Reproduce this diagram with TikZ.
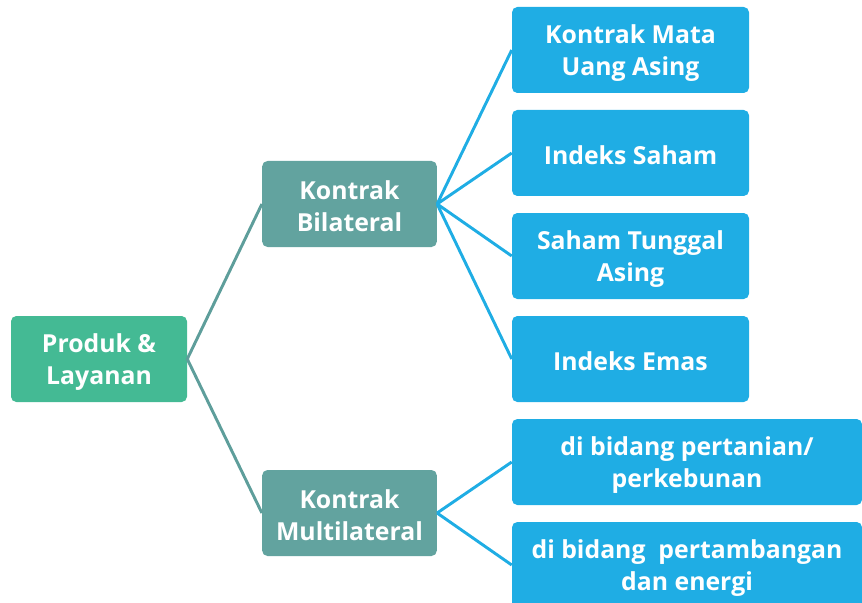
\documentclass[tikz,border=0pt]{standalone}
\usepackage{fontspec}
\setmainfont{Open Sans}
\begin{document}
\begin{tikzpicture}[x=0.75pt,y=-0.75pt,
  box/.style={rounded corners=4pt, inner sep=0pt},
  txt/.style={inner sep=0pt, align=center, text=white,
    font=\bfseries\fontsize{18.6}{24}\selectfont},
  rootbox/.style={box, fill=rootgreen, minimum width=132pt, minimum height=64.5pt},
  midbox/.style={box, fill=midteal, minimum width=131pt, minimum height=64.5pt},
  leafbox/.style={box, fill=leafblue, minimum width=177.75pt, minimum height=64.5pt},
  widebox/.style={box, fill=leafblue, minimum width=262.5pt, minimum height=64.5pt},
  tealline/.style={draw=linkteal, line width=2.2pt},
  blueline/.style={draw=leafblue, line width=2.2pt}]
\definecolor{rootgreen}{HTML}{44BA94}
\definecolor{midteal}{HTML}{62A39F}
\definecolor{leafblue}{HTML}{1FADE4}
\definecolor{linkteal}{HTML}{5E9E9B}
\useasboundingbox (0,0) rectangle (862,602);

% boxes
\node[rootbox] (root) at (99,359) {};
\node[midbox] (bil) at (349.5,204) {};
\node[midbox] (mul) at (349.5,513) {};
\node[leafbox] (b1) at (630.5,50) {};
\node[leafbox] (b2) at (630.5,153) {};
\node[leafbox] (b3) at (630.5,256) {};
\node[leafbox] (b4) at (630.5,359) {};
\node[widebox] (m1) at (687,462) {};
\node[widebox] (m2) at (687,565) {};

% captions, set slightly below the box centres
\node[txt] (rootT) at ([yshift=-2pt]root.center) {Produk \&\\Layanan};
\node[txt] (bilT) at ([yshift=-2pt]bil.center) {Kontrak\\Bilateral};
\node[txt] (mulT) at ([yshift=-2pt]mul.center) {Kontrak\\Multilateral};
\node[txt] (b1T) at ([yshift=-2pt]b1.center) {Kontrak Mata\\Uang Asing};
\node[txt] (b2T) at ([yshift=-2pt]b2.center) {Indeks Saham};
\node[txt] (b3T) at ([yshift=-2pt]b3.center) {Saham Tunggal\\Asing};
\node[txt] (b4T) at ([yshift=-2pt]b4.center) {Indeks Emas};
\node[txt] (m1T) at ([yshift=-2pt]m1.center) {di bidang pertanian/\\perkebunan};
\node[txt] (m2T) at ([yshift=-2pt]m2.center) {di bidang~~pertambangan\\dan energi};

% connectors
\draw[tealline] (bil.west) -- (root.east) -- (mul.west);
\foreach \c in {b1,b2,b3,b4}
  \draw[blueline] (bil.east) -- (\c.west);
\foreach \c in {m1,m2}
  \draw[blueline] (mul.east) -- (\c.west);
\end{tikzpicture}
\end{document}
